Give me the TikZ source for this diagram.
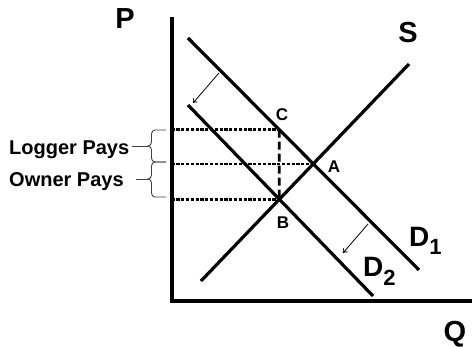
\documentclass[tikz,border=0pt]{standalone}
\usepackage{fontspec}
\setmainfont{Liberation Sans}
\usetikzlibrary{positioning,calc}
\usetikzlibrary{arrows.meta,decorations.pathreplacing}
\tikzset{
  axis/.style={draw=black,line width=4pt},
  curve/.style={draw=black,line width=3.2pt},
  guide/.style={draw=black,line width=2.6pt,dash pattern=on 3.2pt off 1.6pt},
  gap/.style={draw=black,line width=2.8pt,dash pattern=on 8pt off 4pt},
  movearrow/.style={draw=black,line width=0.8pt,-{To[length=4pt,width=6pt]}},
  band/.style={draw=black!75,line width=0.9pt},
  pays/.style={font=\fontsize{20}{24}\selectfont\bfseries,inner sep=0pt,
    text height=14.3pt,text depth=0pt},
  bigtag/.style={font=\fontsize{29}{32}\selectfont\bfseries,inner sep=0pt,
    text height=20.8pt,text depth=0pt},
  pointtag/.style={font=\fontsize{17}{19}\selectfont\bfseries,inner sep=0pt,
    text height=12.2pt,text depth=0pt},
  curvetag/.style={font=\fontsize{28}{32}\selectfont\bfseries,inner sep=0pt},
}

\begin{document}
\begin{tikzpicture}[x=1pt,y=-1pt]
\useasboundingbox (0,0) rectangle (472,347);
% axes
\coordinate (o) at (171.5,301);
\coordinate (ytop) at (171.5,17);
\coordinate (xend) at (472,301);
\draw[axis] (ytop) -- (o) -- (xend);
% supply and the two demand lines
\coordinate (s1) at (201,281);
\coordinate (s2) at (409,64);
\coordinate (d1a) at (188,38);
\coordinate (d1b) at (419,270);
\coordinate (d2a) at (188,105);
\coordinate (d2b) at (373,296);
\draw[curve] (s1) -- (s2);
\draw[curve] (d1a) -- (d1b);
\draw[curve] (d2a) -- (d2b);
\coordinate (A) at (intersection of d1a--d1b and s1--s2);
\coordinate (B) at (intersection of d2a--d2b and s1--s2);
\coordinate (Bup) at ($(B)+(0,-10)$);
\coordinate (C) at (intersection of d1a--d1b and B--Bup);
% price levels
\draw[guide] (o |- C) -- (C);
\draw[guide] (o |- A) -- (A);
\draw[guide] (o |- B) -- (B);
\draw[gap] (C) -- (B);
% shift arrows
\coordinate (m1) at (219,73);
\coordinate (n1) at (193,103);
\coordinate (m2) at (368,224);
\coordinate (n2) at (343,253);
\draw[movearrow] (m1) -- (n1);
\draw[movearrow] (m2) -- (n2);
% braces
\coordinate (tipL) at (148,146);
\coordinate (tipO) at (148,179);
\draw[band] (166,130) -- (155,130) to[out=180,in=90] (151.5,134) -- (151.5,142)
  to[out=-90,in=0] (tipL) to[out=0,in=90] (151.5,150) -- (151.5,158)
  to[out=-90,in=180] (155,162) -- (166,162);
\draw[band] (166,162) -- (155,162) to[out=180,in=90] (151.5,166) -- (151.5,175)
  to[out=-90,in=0] (tipO) to[out=0,in=90] (151.5,183) -- (151.5,193)
  to[out=-90,in=180] (155,197) -- (166,197);
\node[pays,anchor=west] (logger) at (9,147) {Logger Pays};
\node[pays,anchor=west] (owner) at (9,179.5) {Owner Pays};
\draw[band,shorten <=3pt] (logger.east |- tipL) -- (tipL);
\draw[band,shorten <=12pt] (owner.east |- tipO) -- (tipO);
% labels
\node[bigtag] (ptag) at (125,18.5) {P};
\node[bigtag] (qtag) at (455,331) {Q};
\node[bigtag] (stag) at (408,32.5) {S};
\node[pointtag] (atag) at (334,166) {A};
\node[pointtag] (btag) at (283,222.5) {B};
\node[pointtag] (ctag) at (282,114) {C};
\node[curvetag,anchor=base west] (d1tag) at (409,247)
  {D\raisebox{-8pt}{\fontsize{22}{22}\selectfont 1}};
\node[curvetag,anchor=base west] (d2tag) at (363,277)
  {D\raisebox{-9pt}{\fontsize{22}{22}\selectfont 2}};
\end{tikzpicture}
\end{document}
